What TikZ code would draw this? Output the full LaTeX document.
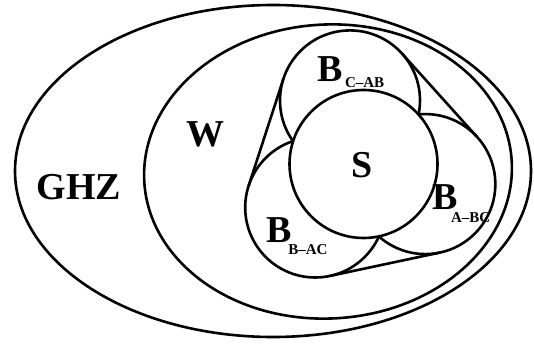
\documentclass[tikz,border=0pt]{standalone}
\usepackage{fontspec}
\setmainfont{Liberation Serif}
\usetikzlibrary{calc}
\newcommand\bigfont{\fontsize{38}{38}\selectfont\bfseries}
\newcommand\subfont{\fontsize{15}{15}\selectfont\bfseries}
\newcommand\Blabel[3]{B\kern#1pt\raisebox{-#2pt}{\subfont #3}}
\begin{document}
\begin{tikzpicture}[x=1pt,y=-1pt,
  curve/.style={line width=2.6pt},
  lab/.style={inner sep=0pt,font=\bigfont}]
\useasboundingbox (0,0) rectangle (534,344);
% centres
\coordinate (O) at (363.5,164);
\coordinate (cC) at ($(O)+(102:65pt)$);
\coordinate (cA) at ($(O)+(-18:65pt)$);
\coordinate (cB) at ($(O)+(222:65pt)$);
% hull tangent points
\coordinate (tCl) at ($(cC)+(162:70pt)$);
\coordinate (tBl) at ($(cB)+(162:70pt)$);
\coordinate (tBb) at ($(cB)+(282:70pt)$);
\coordinate (tAb) at ($(cA)+(282:70pt)$);
\coordinate (tAr) at ($(cA)+(42:70pt)$);
\coordinate (tCr) at ($(cC)+(42:70pt)$);
% GHZ and W
\draw[curve] (273,171) ellipse [x radius=258pt, y radius=166pt];
\draw[curve,rotate around={3:(328,171.5)}] (328,171.5) ellipse [x radius=184pt, y radius=147pt];
% biseparable circles
\draw[curve] (cC) circle[radius=70pt];
\draw[curve] (cA) circle[radius=70pt];
\draw[curve] (cB) circle[radius=70pt];
% convex hull
\draw[curve] (tCl) -- (tBl);
\draw[curve] (tBb) -- (tAb);
\draw[curve] (tAr) -- (tCr);
% separable
\draw[curve,fill=white] (O) circle[radius=74pt];
% labels
\node[lab,anchor=base] (ghz) at (79,200) {GHZ};
\node[lab,anchor=base] (w) at (205,147) {W};
\node[lab,anchor=base] (s) at (362,178) {S};
\node[lab,anchor=base west] (bc) at (317.5,82) {\Blabel{2}{6}{C--AB}};
\node[lab,anchor=base west] (bb) at (266.5,242) {\Blabel{-3.8}{12}{B--AC}};
\node[lab,anchor=base west] (ba) at (432.5,210) {\Blabel{-7}{13}{A--BC}};
\end{tikzpicture}
\end{document}
